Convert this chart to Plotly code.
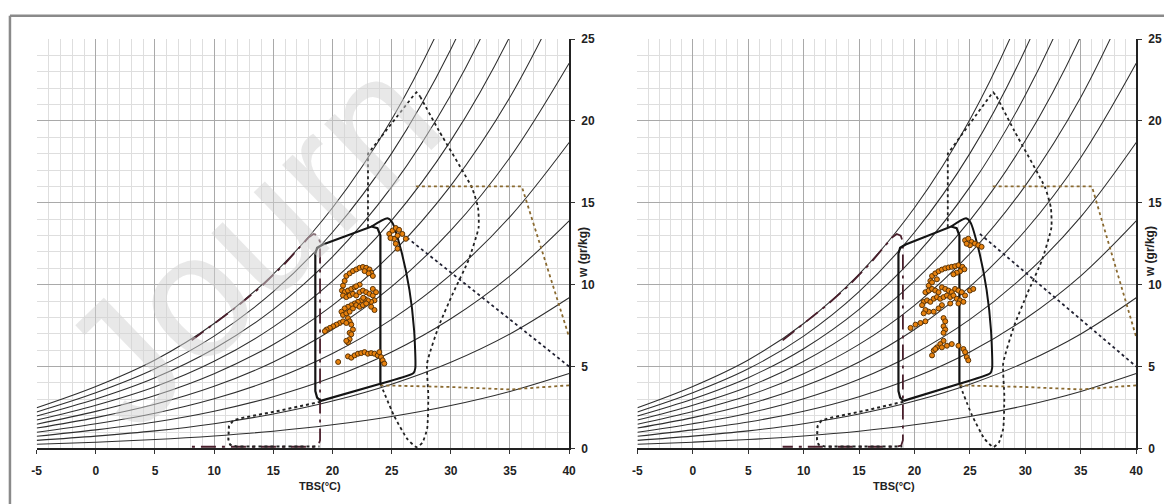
import plotly.graph_objects as go

W, H = 1164, 504

# ---------------- data ----------------
temps = [-5, 0, 5, 10, 15, 20, 25, 30, 35, 40]
rh_levels = [10, 20, 30, 40, 50, 60, 70, 80, 90, 100]
w_rh10 = [0.25, 0.38, 0.54, 0.76, 1.05, 1.44, 1.95, 2.62, 3.48, 4.57]
w_rh20 = [0.49, 0.75, 1.07, 1.51, 2.10, 2.89, 3.92, 5.26, 6.99, 9.20]
w_rh30 = [0.74, 1.13, 1.61, 2.27, 3.16, 4.34, 5.89, 7.92, 10.54, 13.90]
w_rh40 = [0.99, 1.51, 2.15, 3.03, 4.22, 5.80, 7.88, 10.61, 14.14, 18.68]
w_rh50 = [1.24, 1.88, 2.69, 3.79, 5.28, 7.26, 9.88, 13.31, 17.77, 23.52]
w_rh60 = [1.48, 2.26, 3.23, 4.56, 6.35, 8.74, 11.90, 16.05, 21.45, 28.44]
w_rh70 = [1.73, 2.64, 3.77, 5.32, 7.42, 10.22, 13.93, 18.80, 25.17, 33.44]
w_rh80 = [1.98, 3.02, 4.32, 6.09, 8.49, 11.70, 15.97, 21.58, 28.93, 38.51]
w_rh90 = [2.23, 3.40, 4.86, 6.86, 9.57, 13.20, 18.02, 24.38, 32.73, 43.66]
w_rh100 = [2.48, 3.78, 5.40, 7.63, 10.65, 14.70, 20.09, 27.21, 36.58, 48.89]
rh_curves = [w_rh10, w_rh20, w_rh30, w_rh40, w_rh50, w_rh60, w_rh70, w_rh80, w_rh90, w_rh100]

# comfort / strategy zones (TBS degC, w g/kg)
winter_x = [19.0, 18.7, 18.55, 18.55, 18.7, 19.2, 23.3, 23.8, 24.05, 24.05, 19.0]
winter_y = [2.9, 3.1, 3.5, 11.9, 12.25, 12.45, 13.55, 13.45, 13.0, 3.95, 2.9]
summer_x = [23.3, 24.65, 25.05, 25.8, 26.5, 26.9, 27.0, 26.85, 24.05]
summer_y = [13.55, 14.05, 13.8, 12.1, 9.7, 7.2, 4.9, 4.6, 3.95]
heat_x = [8.1, 10, 12, 14, 16, 17, 18, 18.4, 18.75, 18.95, 18.95, 18.8, 18.4, 8.1]
heat_y = [6.6, 7.6, 8.7, 9.9, 11.3, 12.1, 12.9, 13.1, 13.0, 12.6, 0.5, 0.17, 0.1, 0.1]
solar_x = [19.0, 15.5, 12.3, 11.6, 11.25, 11.2, 11.35, 11.9, 18.9]
solar_y = [2.85, 2.3, 1.85, 1.7, 1.35, 0.55, 0.22, 0.12, 0.12]
mass_top_x = [23.0, 23.0, 26.9, 27.1, 27.4]
mass_top_y = [13.5, 18.0, 21.6, 21.75, 21.5]
mass_side_x = [27.4, 29.0, 31.8, 32.3, 32.35, 31.5, 30.2, 29.0, 28.0, 28.1, 28.0, 27.6, 27.1, 26.3, 25.2, 24.05]
mass_side_y = [21.5, 19.4, 15.9, 14.7, 13.5, 11.5, 9.5, 7.5, 5.2, 3.2, 1.2, 0.35, 0.08, 0.6, 2.0, 3.95]
evap_x = [25.9, 40.0]
evap_y = [13.1, 5.0]
brown_up_x = [27.05, 36.0, 40.0]
brown_up_y = [16.0, 16.0, 6.8]
brown_lo_x = [24.05, 30.0, 35.0, 40.0]
brown_lo_y = [3.85, 3.75, 3.6, 3.85]

# measured points
left_x = [24.8, 25.07, 25.35, 25.63, 25.5, 25.2, 25.35, 25.5, 25.9, 26.2, 24.9,
          21.17, 21.45, 21.73, 22.01, 22.29, 22.57, 22.85, 23.13, 23.27, 23.41, 23.05, 22.71,
          21.03, 20.89, 20.80, 21.03, 21.31, 21.59, 21.87,
          20.89, 21.17, 21.45, 21.73, 22.01, 22.29, 22.57, 22.85, 23.13, 23.41, 23.55, 23.27,
          22.99, 22.71, 22.43, 22.15, 21.87, 21.59, 21.31, 21.03, 20.76, 20.89, 21.17, 21.45,
          21.73, 22.01, 22.29, 22.57, 22.85, 23.27, 23.55, 23.41, 23.68, 22.3, 22.0, 22.6,
          21.31, 21.45, 21.59, 21.73, 21.45, 20.62, 20.34, 20.06, 19.78, 19.50, 19.36, 20.89, 21.17,
          21.59, 21.45, 21.31, 21.17,
          20.48, 21.31, 21.59, 21.87, 22.15, 22.43, 22.71, 22.99, 23.27, 23.55, 23.82, 24.10,
          24.24, 24.38, 23.96]
left_y = [13.1, 13.3, 13.46, 13.35, 13.0, 12.8, 12.5, 12.2, 13.1, 12.8, 12.85,
          10.53, 10.69, 10.83, 10.93, 11.03, 11.08, 11.03, 10.93, 10.73, 10.53, 10.69, 10.83,
          10.23, 9.94, 9.64, 9.54, 9.64, 9.74, 9.84,
          9.34, 9.24, 9.34, 9.44, 9.34, 9.54, 9.64, 9.54, 9.44, 9.34, 9.04, 8.95,
          9.04, 9.14, 9.04, 8.95, 8.85, 8.75, 8.65, 8.55, 8.35, 8.15, 8.25, 8.35,
          8.55, 8.75, 8.65, 8.75, 8.85, 8.65, 8.45, 9.74, 9.54, 10.0, 9.9, 9.2,
          7.96, 7.76, 7.56, 7.26, 7.06, 7.66, 7.56, 7.46, 7.36, 7.26, 7.16, 7.76, 7.66,
          6.97, 6.67, 6.47, 6.57,
          5.28, 5.62, 5.54, 5.68, 5.78, 5.82, 5.88, 5.78, 5.82, 5.78, 5.68, 5.58,
          5.38, 5.18, 5.88]
right_x = [24.56, 24.85, 25.15, 25.45, 25.75, 26.05, 25.0, 24.7,
           21.58, 21.87, 22.17, 22.47, 22.77, 23.07, 23.36, 23.66, 23.96, 24.32, 24.50, 24.11, 23.81, 23.51,
           21.43, 21.28, 21.58, 22.02,
           20.98, 21.28, 21.58, 21.87, 22.17, 22.47, 22.77, 23.07, 23.36, 23.66, 23.96, 24.26, 24.56, 25.0, 25.3,
           20.83, 21.13, 21.43, 21.73, 22.02, 22.32, 22.62, 22.92, 23.22, 23.51, 23.81, 24.11, 24.41, 23.96,
           23.22, 22.47, 22.17, 21.73, 21.28, 20.98, 20.68, 20.83,
           19.64, 20.09, 20.53, 20.98,
           22.62, 22.77, 22.62, 22.77, 22.62,
           22.62, 22.32, 22.02, 21.73, 21.58, 21.87, 22.47, 22.92, 23.36, 23.96, 24.41, 24.56, 24.71, 24.85]
right_y = [12.71, 12.81, 12.61, 12.51, 12.41, 12.31, 12.41, 12.5,
           10.53, 10.69, 10.82, 10.92, 11.00, 11.05, 11.09, 11.13, 11.19, 11.09, 10.94, 10.82, 10.73, 10.63,
           10.23, 9.94, 10.14, 10.33,
           9.54, 9.64, 9.74, 9.64, 9.54, 9.84, 9.74, 9.64, 9.54, 9.74, 9.64, 9.54, 9.34, 9.64, 9.74,
           8.95, 9.04, 8.95, 9.14, 9.24, 9.14, 9.24, 9.34, 9.24, 9.34, 9.14, 9.04, 8.95, 8.85,
           8.85, 8.75, 8.55, 8.35, 8.35, 8.45, 8.75, 8.25,
           7.36, 7.56, 7.66, 7.76,
           7.96, 7.76, 7.46, 7.26, 7.06,
           6.57, 6.37, 6.17, 5.98, 5.68, 6.07, 6.17, 6.27, 6.37, 6.27, 6.07, 5.88, 5.58, 5.38]

x_ticks = [-5, 0, 5, 10, 15, 20, 25, 30, 35, 40]
x_tick_text = ["-5", "0", "5", "10", "15", "20", "25", "30", "35", "40"]
y_ticks = [0, 5, 10, 15, 20, 25]
x_title = "TBS(°C)"
y_title = "w (gr/kg)"
watermark = "Journ"

# ---------------- layout geometry (pixels) ----------------
panels = [
    dict(x0=32, x1=570, pts=(left_x, left_y), xa="x", ya="y", title_x=318),
    dict(x0=639, x1=1143, pts=(right_x, right_y), xa="x2", ya="y2", title_x=898),
]
top_px, bot_px = 33, 454
FONT = "Liberation Sans Narrow, Liberation Sans, Arial"

fig = go.Figure()

for p in panels:
    xa, ya = p["xa"], p["ya"]
    for w in rh_curves:
        fig.add_trace(go.Scatter(x=temps, y=w, mode="lines", xaxis=xa, yaxis=ya,
                                 line=dict(color="#2e2e2e", width=1.05, shape="spline", smoothing=1.0),
                                 hoverinfo="skip", showlegend=False))
    fig.add_trace(go.Scatter(x=heat_x, y=heat_y, mode="lines", xaxis=xa, yaxis=ya,
                             line=dict(color="#4a1f2c", width=1.8, dash="longdashdot"),
                             showlegend=False))
    fig.add_trace(go.Scatter(x=solar_x, y=solar_y, mode="lines", xaxis=xa, yaxis=ya,
                             line=dict(color="#222222", width=2, dash="dot"), showlegend=False))
    fig.add_trace(go.Scatter(x=mass_top_x, y=mass_top_y, mode="lines", xaxis=xa, yaxis=ya,
                             line=dict(color="#222222", width=1.8, dash="dot"), showlegend=False))
    fig.add_trace(go.Scatter(x=mass_side_x, y=mass_side_y, mode="lines", xaxis=xa, yaxis=ya,
                             line=dict(color="#222222", width=1.8, dash="dot", shape="spline", smoothing=0.5),
                             showlegend=False))
    fig.add_trace(go.Scatter(x=evap_x, y=evap_y, mode="lines", xaxis=xa, yaxis=ya,
                             line=dict(color="#222233", width=1.8, dash="dot"), showlegend=False))
    fig.add_trace(go.Scatter(x=brown_up_x, y=brown_up_y, mode="lines", xaxis=xa, yaxis=ya,
                             line=dict(color="#8a6a30", width=1.8, dash="dot"), showlegend=False))
    fig.add_trace(go.Scatter(x=brown_lo_x, y=brown_lo_y, mode="lines", xaxis=xa, yaxis=ya,
                             line=dict(color="#8a6a30", width=1.8, dash="dot"), showlegend=False))
    fig.add_trace(go.Scatter(x=winter_x, y=winter_y, mode="lines", xaxis=xa, yaxis=ya,
                             line=dict(color="#141414", width=2.2), showlegend=False))
    fig.add_trace(go.Scatter(x=summer_x, y=summer_y, mode="lines", xaxis=xa, yaxis=ya,
                             line=dict(color="#141414", width=2.0, shape="spline", smoothing=0.6),
                             showlegend=False))
    px_, py_ = p["pts"]
    fig.add_trace(go.Scatter(x=px_, y=py_, mode="markers", xaxis=xa, yaxis=ya,
                             marker=dict(color="#e8820e", size=5,
                                         line=dict(color="#5a3306", width=1)),
                             showlegend=False))

def xaxis_cfg(p):
    return dict(domain=[p["x0"] / W, p["x1"] / W], range=[-5, 40], anchor=p["ya"],
                tickvals=x_ticks, ticktext=x_tick_text, ticks="outside", ticklen=4,
                tickcolor="#333", showline=True, linecolor="#222", linewidth=1.5,
                showgrid=True, gridcolor="#a9a9a9", gridwidth=1, zeroline=False,
                minor=dict(dtick=1, showgrid=True, gridcolor="#dedede", gridwidth=1),
                tickfont=dict(family=FONT, size=12, color="#222", weight="bold"),
                ticklabelstandoff=6, fixedrange=True)

def yaxis_cfg(p):
    return dict(domain=[1 - bot_px / H, 1 - top_px / H], range=[0, 25], anchor=p["xa"],
                side="right", tickvals=y_ticks, ticks="outside", ticklen=4, tickcolor="#333",
                showline=True, linecolor="#222", linewidth=1.5,
                showgrid=True, gridcolor="#a9a9a9", gridwidth=1, zeroline=False,
                minor=dict(dtick=1, showgrid=True, gridcolor="#dedede", gridwidth=1),
                tickfont=dict(family=FONT, size=12, color="#222", weight="bold"),
                ticklabelstandoff=4, fixedrange=True)

annotations = []
for p in panels:
    annotations.append(dict(text="<b>" + x_title + "</b>", xref="paper", yref="paper",
                            x=p["title_x"] / W, y=1 - 493 / H, showarrow=False,
                            xanchor="center", yanchor="middle",
                            font=dict(family=FONT, size=11, color="#222")))
    annotations.append(dict(text="<b>" + y_title + "</b>", xref="paper", yref="paper",
                            x=(p["x1"] + 14) / W, y=1 - 252 / H, showarrow=False, textangle=-90,
                            xanchor="center", yanchor="middle",
                            font=dict(family=FONT, size=12, color="#222")))
annotations.append(dict(text=watermark, xref="paper", yref="paper", x=248 / W, y=1 - 240 / H,
                        showarrow=False, textangle=-44, xanchor="center", yanchor="middle",
                        font=dict(family="Liberation Sans, Arial", size=176,
                                  color="rgba(210,210,210,0.5)")))

shapes = [
    dict(type="line", xref="paper", yref="paper", x0=5 / W, x1=1.02, y0=1 - 9 / H, y1=1 - 9 / H,
         line=dict(color="#8a8a8a", width=2.5)),
    dict(type="line", xref="paper", yref="paper", x0=5 / W, x1=5 / W, y0=1 - 9 / H, y1=-0.02,
         line=dict(color="#8a8a8a", width=2.5)),
]

fig.update_layout(
    width=W, height=H, margin=dict(l=0, r=0, t=0, b=0),
    paper_bgcolor="white", plot_bgcolor="white",
    xaxis=xaxis_cfg(panels[0]), yaxis=yaxis_cfg(panels[0]),
    xaxis2=xaxis_cfg(panels[1]), yaxis2=yaxis_cfg(panels[1]),
    annotations=annotations, shapes=shapes, showlegend=False,
)

fig.write_html("out.html")
